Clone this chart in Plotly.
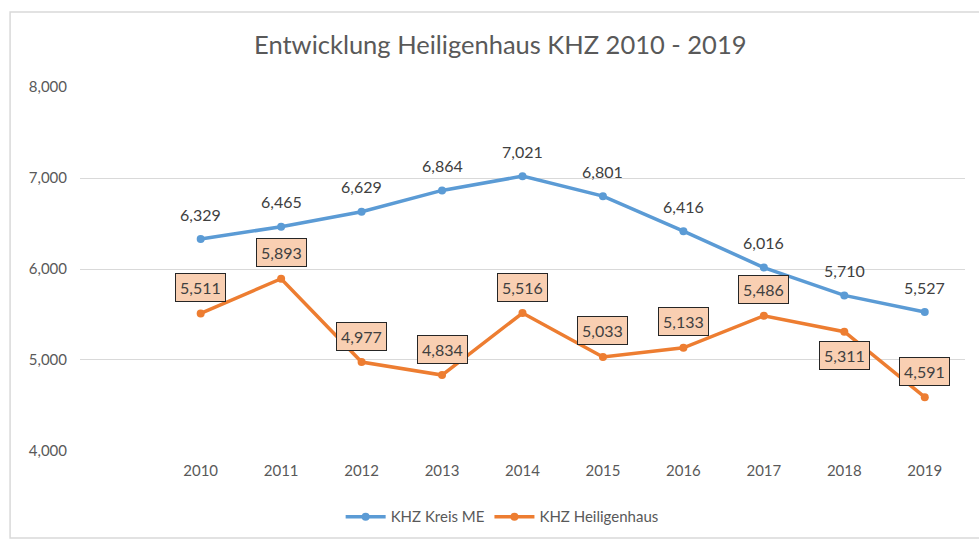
import plotly.graph_objects as go

years = [2010, 2011, 2012, 2013, 2014, 2015, 2016, 2017, 2018, 2019]
kreis_me = [6329, 6465, 6629, 6864, 7021, 6801, 6416, 6016, 5710, 5527]
heiligenhaus = [5511, 5893, 4977, 4834, 5516, 5033, 5133, 5486, 5311, 4591]
heil_label_pos = ["above", "above", "above", "above", "above", "above", "above", "above", "below", "above"]

FONT = "Lato"
GRAY = "#595959"
BLUE = "#5B9BD5"
ORANGE = "#ED7D31"

fig = go.Figure()
fig.add_trace(go.Scatter(
    x=years, y=kreis_me, name="KHZ Kreis ME", mode="lines+markers",
    line=dict(color=BLUE, width=3.5), marker=dict(size=8, color=BLUE),
))
fig.add_trace(go.Scatter(
    x=years, y=heiligenhaus, name="KHZ Heiligenhaus", mode="lines+markers",
    line=dict(color=ORANGE, width=3.5), marker=dict(size=8, color=ORANGE),
))

annotations = []
for x, y in zip(years, kreis_me):
    annotations.append(dict(
        x=x, y=y, xref="x", yref="y", text=f"{y:,}", showarrow=False,
        yshift=25, font=dict(family=FONT, size=16, color="#404040"),
    ))
for x, y, pos in zip(years, heiligenhaus, heil_label_pos):
    annotations.append(dict(
        x=x, y=y, xref="x", yref="y", text=f"{y:,}", showarrow=False,
        yshift=26 if pos == "above" else -24,
        font=dict(family=FONT, size=16, color="#404040"),
        bgcolor="#F9CFB2", bordercolor="#262626", borderwidth=1, borderpad=4,
    ))

fig.update_layout(
    width=979, height=539,
    margin=dict(l=80, r=14, t=87, b=88, autoexpand=False),
    paper_bgcolor="white", plot_bgcolor="white",
    title=dict(text="Entwicklung Heiligenhaus KHZ 2010 - 2019",
               x=0.511, xanchor="center", y=1 - 45 / 539, yanchor="middle",
               font=dict(family=FONT, size=25.5, color=GRAY)),
    xaxis=dict(range=[2008.5, 2019.5], tickvals=years, ticktext=[str(y) for y in years],
               showgrid=False, zeroline=False, showline=False, ticks="",
               ticklabelstandoff=9,
               tickfont=dict(family=FONT, size=15, color=GRAY)),
    yaxis=dict(range=[3999, 8001], tickvals=[4000, 5000, 6000, 7000, 8000], tickformat=",d",
               showgrid=True, gridcolor="#D9D9D9", gridwidth=1, zeroline=False,
               showline=False, ticks="", ticklabelstandoff=12,
               tickfont=dict(family=FONT, size=15, color=GRAY)),
    legend=dict(orientation="h", x=0.477, xanchor="center", y=-0.181, yanchor="middle",
                font=dict(family=FONT, size=15, color=GRAY), itemwidth=40),
    annotations=annotations,
    shapes=[dict(type="rect", xref="paper", yref="paper",
                 x0=-0.079, x1=1.06, y0=-0.239, y1=1.206,
                 line=dict(color="#D9D9D9", width=1.5))],
    showlegend=True,
)

fig.write_html("out.html", config={"displayModeBar": False},
               post_script="document.body.style.margin='0';document.body.style.overflow='hidden';")
